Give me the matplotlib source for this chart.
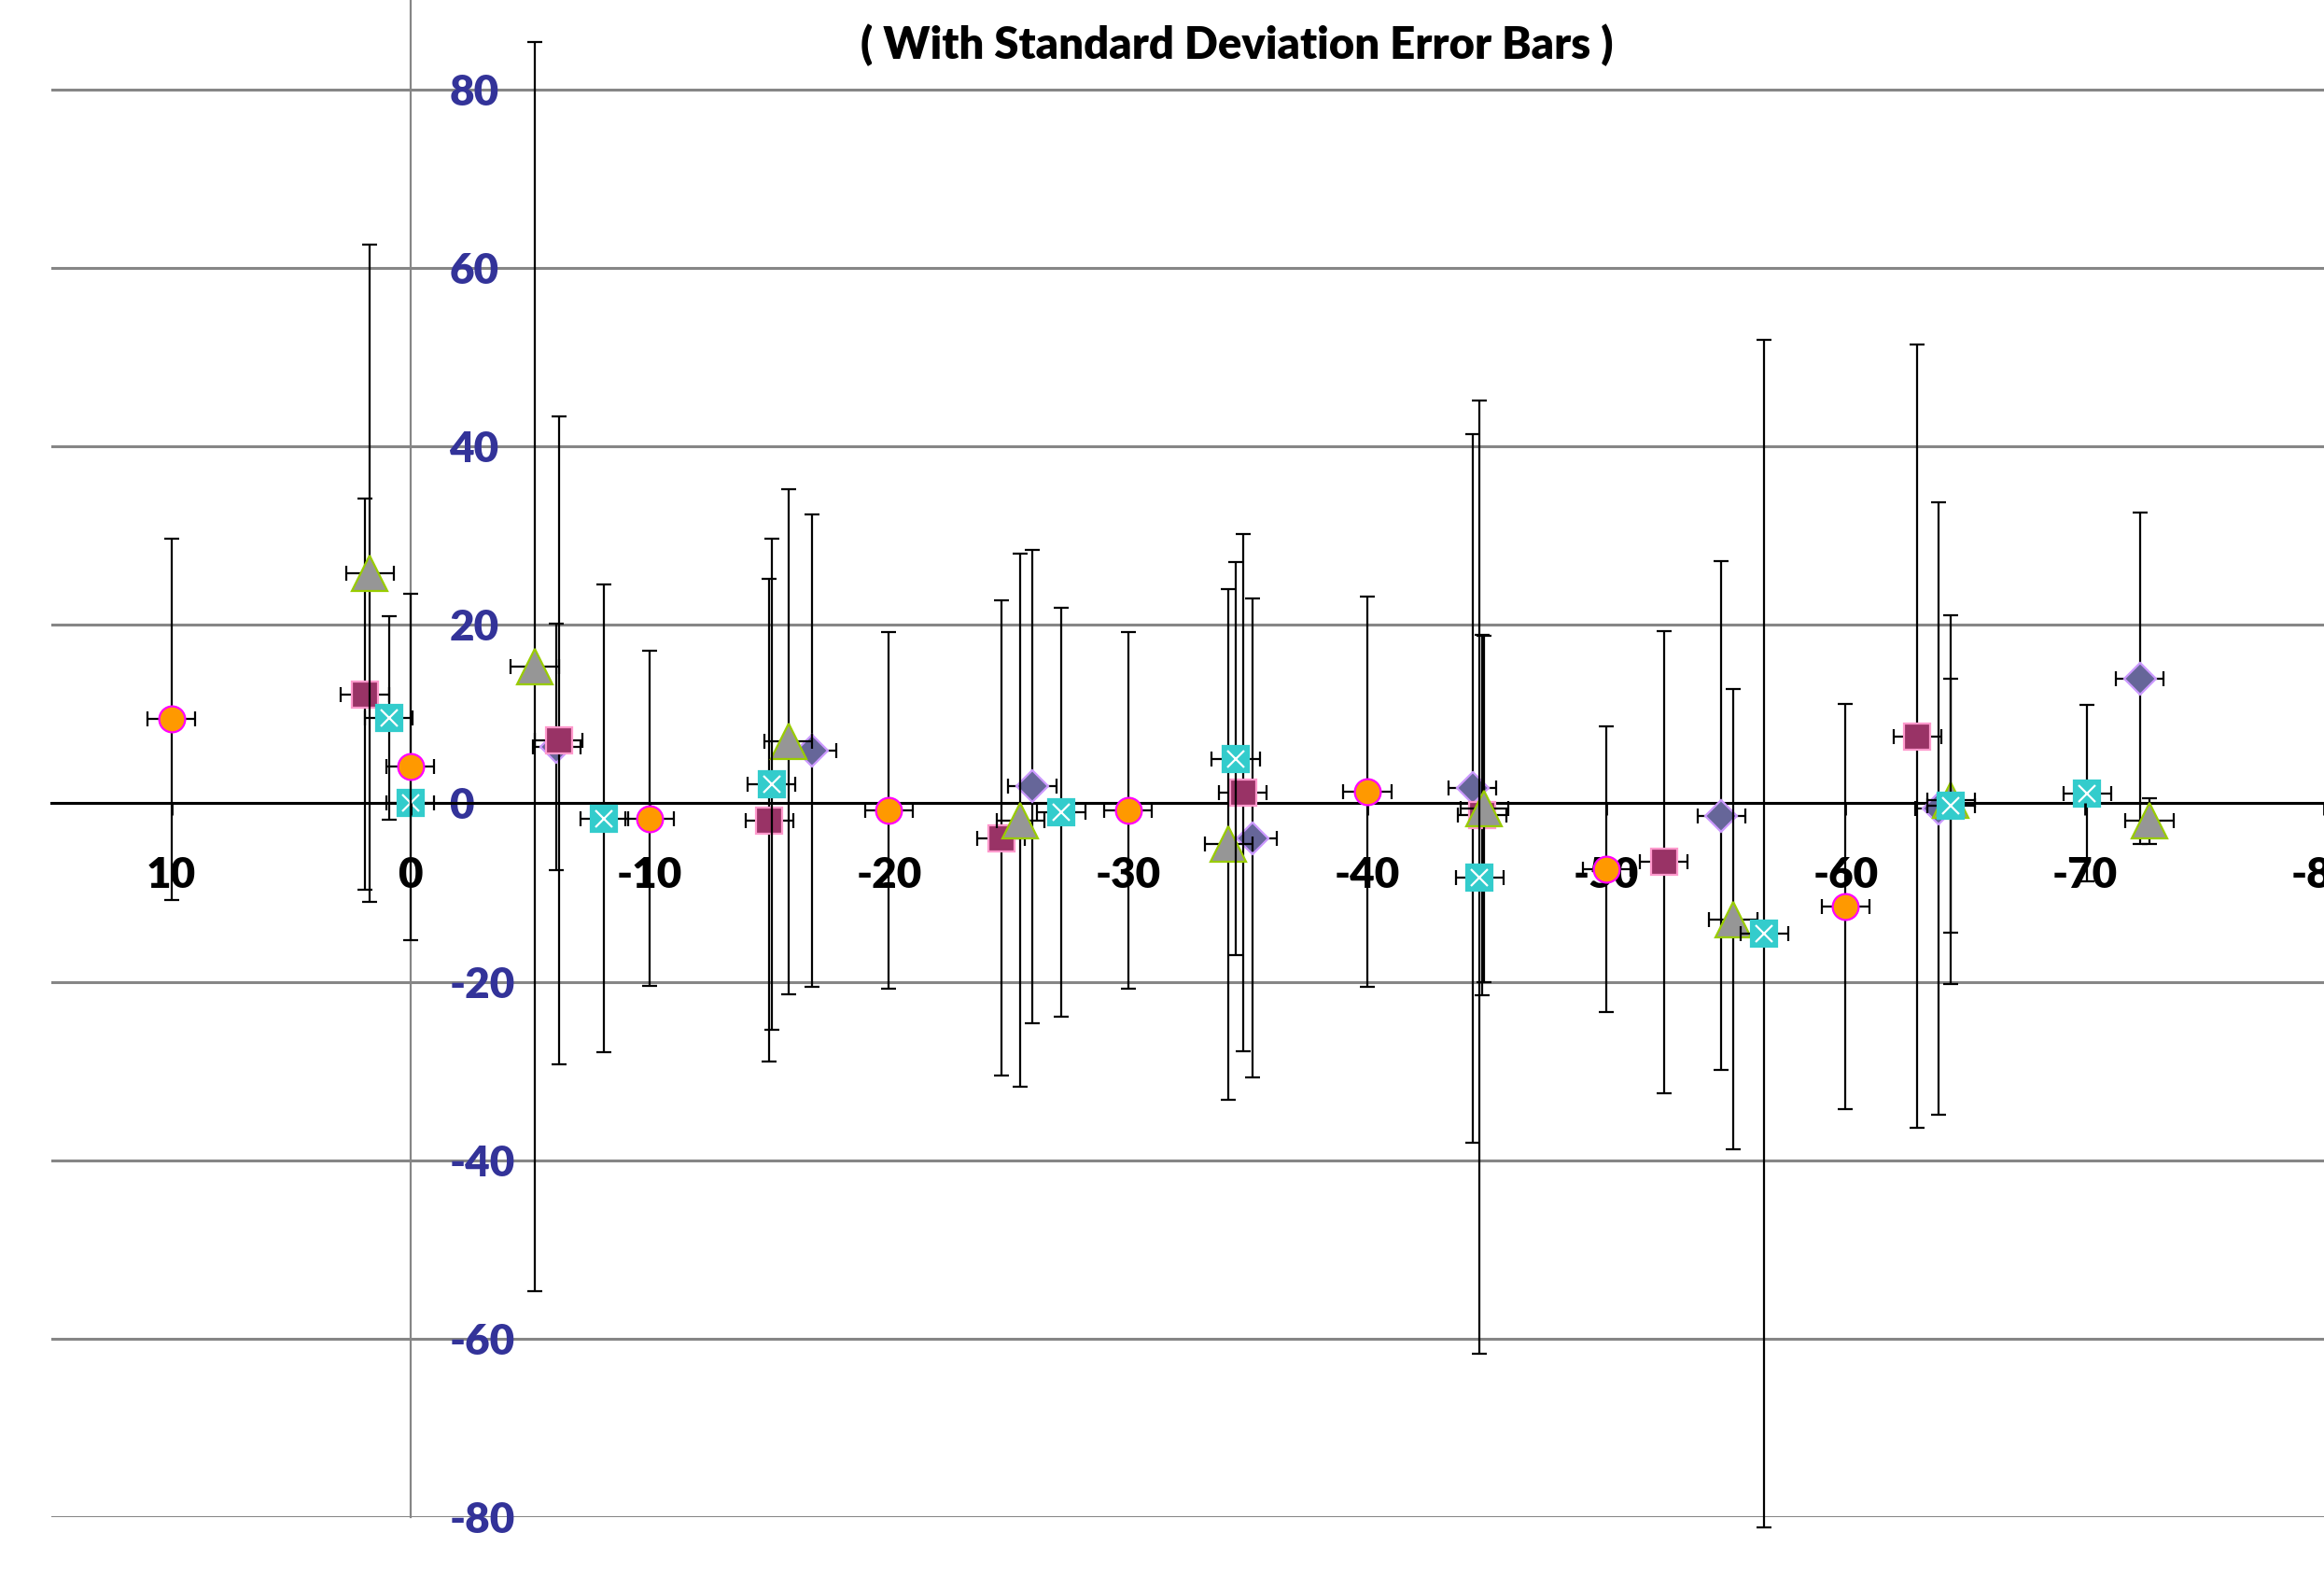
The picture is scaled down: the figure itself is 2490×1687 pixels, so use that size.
import matplotlib
matplotlib.use('Agg')
import matplotlib.pyplot as plt

plt.rcParams['font.family'] = ['Lato', 'DejaVu Sans']
plt.rcParams['axes.unicode_minus'] = False

# series 1: diamonds
dia_x = [-6.1, -16.8, -26.0, -35.2, -44.4, -54.8, -63.9, -72.3]
dia_y = [6.3, 5.9, 1.9, -3.9, 1.7, -1.4, -0.6, 14.0]
dia_err = [13.8, 26.5, 26.5, 26.8, 39.7, 28.5, 34.3, 18.6]

# series 2: squares
sq_x = [1.9, -6.2, -15.0, -24.7, -34.8, -44.8, -52.4, -63.0]
sq_y = [12.2, 7.0, -1.9, -3.9, 1.2, -1.3, -6.6, 7.5]
sq_err = [21.9, 36.3, 27.0, 26.6, 29.0, 20.2, 25.9, 43.9]

# series 3: triangles
tri_x = [1.7, -5.2, -15.8, -25.5, -34.2, -44.9, -55.3, -64.4, -72.7]
tri_y = [25.8, 15.3, 6.9, -1.9, -4.6, -0.6, -13.0, 0.4, -2.0]
tri_err = [36.8, 70.0, 28.3, 29.9, 28.6, 19.4, 25.8, 20.7, 2.6]

# series 4: x boxes
xb_x = [0.9, 0.0, -8.1, -15.1, -27.2, -34.5, -44.7, -56.6, -64.4, -70.1]
xb_y = [9.6, 0.0, -1.7, 2.1, -1.0, 5.0, -8.3, -14.6, -0.3, 1.1]
xb_err = [11.4, 0.0, 26.2, 27.5, 22.9, 22.0, 53.4, 66.5, 14.2, 9.9]

# series 5: circles
ci_x = [10, 0, -10, -20, -30, -40, -50, -60]
ci_y = [9.4, 4.1, -1.7, -0.8, -0.8, 1.3, -7.4, -11.6]
ci_err = [20.2, 19.4, 18.8, 20.0, 20.0, 21.9, 16.0, 22.7]

x_sd = 1.0

yticks = [-80, -60, -40, -20, 0, 20, 40, 60, 80]
xticks = [10, 0, -10, -20, -30, -40, -50, -60, -70, -80]

W, H = 2490, 1687
fig = plt.figure(figsize=(W / 200, H / 200), dpi=200)
ax = fig.add_axes([55.4 / W, (H - 1625.1) / H, 1 - 55.4 / W, 1625.1 / H])
ax.set_xlim(15, -80)
ax.set_ylim(-80, 90)

for s in ['top', 'right']:
    ax.spines[s].set_visible(False)
ax.spines['left'].set_position(('data', 0))
ax.spines['left'].set_color('#868686')
ax.spines['left'].set_linewidth(0.8)
ax.spines['bottom'].set_position(('data', 0))
ax.spines['bottom'].set_color('black')
ax.spines['bottom'].set_linewidth(1.1)

ax.set_yticks(yticks)
ax.set_xticks(xticks)
ax.yaxis.grid(True, color='#868686', linewidth=1.1)
ax.set_axisbelow(True)
ax.tick_params(axis='y', length=0, pad=-15, labelsize=16.5, labelcolor='#333399')
ax.tick_params(axis='x', direction='out', length=4.5, width=1.0, pad=16,
               labelsize=16.5, colors='black')
for lab in ax.get_yticklabels():
    lab.set_ha('left')
    lab.set_fontweight('heavy')
for lab in ax.get_xticklabels():
    lab.set_fontweight('heavy')
ax.xaxis.set_zorder(8)

series = [
    (dia_x, dia_y, dia_err, dict(marker='D', ms=8.8, mfc='#666699', mec='#CC99FF')),
    (sq_x, sq_y, sq_err, dict(marker='s', ms=10, mfc='#993366', mec='#FF99CC')),
    (tri_x, tri_y, tri_err, dict(marker='^', ms=13.5, mfc='#969696', mec='#99CC00')),
    (xb_x, xb_y, xb_err, dict(marker='s', ms=10, mfc='#33CCCC', mec='#33CCCC')),
    (ci_x, ci_y, ci_err, dict(marker='o', ms=10, mfc='#FF9900', mec='#FF00FF')),
]

z = 4
for xs, ys, errs, style in series:
    eb = ax.errorbar(xs, ys, yerr=errs, xerr=[x_sd] * len(xs), fmt='none',
                     ecolor='black', elinewidth=0.8, capsize=3, capthick=0.8,
                     zorder=z)
    for child in eb.get_children():
        child.set_clip_on(False)
    ax.plot(xs, ys, ls='none', mew=0.8, zorder=z + 0.5, clip_on=False, **style)
    if style['mfc'] == '#33CCCC':
        ax.plot(xs, ys, ls='none', marker='x', ms=6.5, mew=0.8, color='white',
                zorder=z + 0.6, clip_on=False)
    z += 1

fig.text(1325 / W, 1 - 48 / H, '( With Standard Deviation Error Bars )',
         ha='center', va='center', fontsize=17, fontweight='heavy')

fig.savefig('out.png', dpi=200)
